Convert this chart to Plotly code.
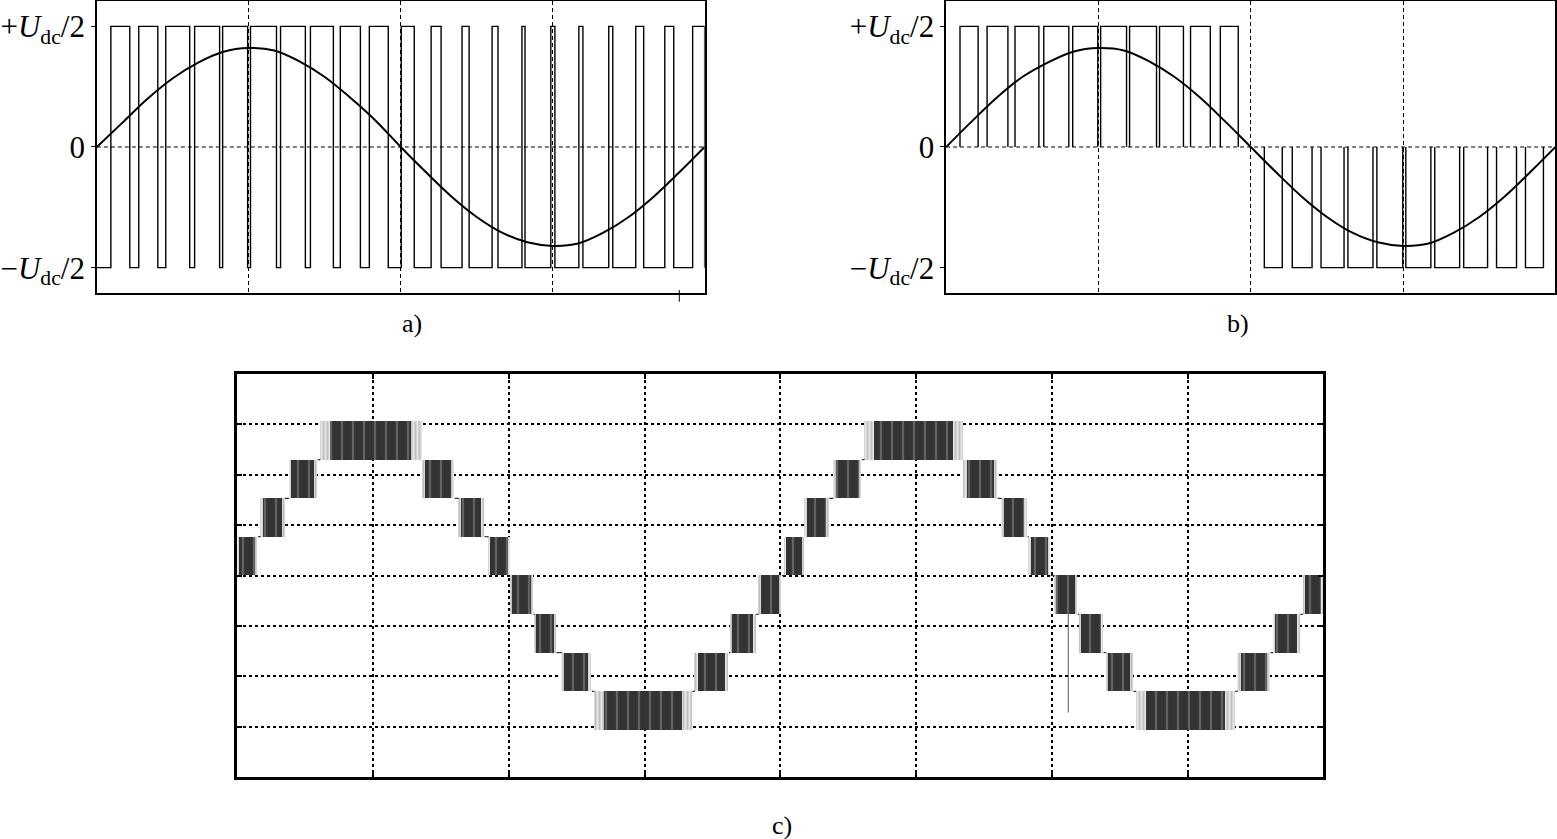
import plotly.graph_objects as go

# ---------------- panel a) bipolar SPWM (angle in degrees) ----------------
a_high_start = [8.3, 24.8, 40.8, 57.9, 74.5, 91.0, 108.8, 126.5, 144.2, 161.4,
                180.3, 198.0, 216.3, 234.1, 251.8, 268.9, 285.5, 303.2, 319.2, 336.4, 352.9]
a_high_end = [19.5, 36.1, 55.0, 72.7, 89.3, 106.4, 123.5, 140.1, 156.1, 172.6,
              188.0, 203.9, 220.5, 237.6, 253.6, 271.3, 287.9, 305.6, 323.9, 341.7, 360.0]

sine_deg = [0, 15, 30, 45, 60, 75, 90, 105, 120, 135, 150, 165, 180,
            195, 210, 225, 240, 255, 270, 285, 300, 315, 330, 345, 360]
a_sine = [0.0, 0.20, 0.40, 0.57, 0.70, 0.79, 0.82, 0.80, 0.71, 0.58, 0.41, 0.22, 0.0,
          -0.21, -0.41, -0.58, -0.71, -0.79, -0.82, -0.80, -0.71, -0.58, -0.41, -0.21, 0.0]

# ---------------- panel b) unipolar SPWM ----------------
b_pos_start = [8.2, 24.2, 40.7, 57.7, 74.8, 91.3, 108.4, 126.1, 144.4, 162.0]
b_pos_end = [18.9, 36.5, 54.8, 72.5, 89.6, 106.6, 124.3, 140.2, 156.1, 172.6]
b_neg_start = [188.0, 204.5, 221.5, 237.4, 254.5, 271.6, 288.7, 305.8, 325.2, 342.3]
b_neg_end = [198.6, 216.2, 235.1, 252.2, 269.8, 286.4, 303.4, 319.9, 337.0, 352.9]
b_sine = [0.0, 0.21, 0.41, 0.58, 0.70, 0.79, 0.82, 0.80, 0.71, 0.58, 0.41, 0.21, 0.0,
          -0.21, -0.41, -0.58, -0.71, -0.79, -0.82, -0.80, -0.71, -0.58, -0.41, -0.21, 0.0]

# ---------------- panel c) multilevel staircase (scope divisions) ----------------
c_band_start = [0.00, 0.17, 0.38, 0.61, 1.36, 1.63, 1.85, 2.01, 2.19, 2.39, 2.63, 3.37, 3.63, 3.84,
                4.03, 4.18, 4.39, 4.62, 5.35, 5.63, 5.83, 6.02, 6.20, 6.40, 6.62, 7.37, 7.63, 7.85]
c_band_end = [0.15, 0.35, 0.59, 1.36, 1.60, 1.82, 2.01, 2.18, 2.35, 2.61, 3.35, 3.62, 3.82, 4.01,
              4.18, 4.36, 4.60, 5.35, 5.60, 5.82, 5.99, 6.19, 6.38, 6.60, 7.35, 7.61, 7.83, 8.00]
c_band_lo = [0.0, 0.77, 1.53, 2.30, 1.53, 0.77, 0.0, -0.77, -1.53, -2.30, -3.07, -2.30, -1.53, -0.77,
             0.0, 0.77, 1.53, 2.30, 1.53, 0.77, 0.0, -0.77, -1.53, -2.30, -3.07, -2.30, -1.53, -0.77]
c_band_hi = [0.77, 1.53, 2.30, 3.07, 2.30, 1.53, 0.77, 0.0, -0.77, -1.53, -2.30, -1.53, -0.77, 0.0,
             0.77, 1.53, 2.30, 3.07, 2.30, 1.53, 0.77, 0.0, -0.77, -1.53, -2.30, -1.53, -0.77, 0.0]
c_glitch_x = [6.12, 6.12]
c_glitch_y = [-0.75, -2.72]

u_tickvals = [-1, 0, 1]
u_ticktext = ["\u2212<i>U</i><sub>dc</sub>/2", "0", "+<i>U</i><sub>dc</sub>/2"]

SERIF = "Liberation Serif"
INK = "black"


def bipolar_path(starts, ends, lo, hi, x_end):
    xs, ys = [0], [lo]
    for s, e in zip(starts, ends):
        xs += [s, s, e, e]
        ys += [lo, hi, hi, lo]
    xs.append(x_end)
    ys.append(lo)
    return xs, ys


def pulse_path(starts, ends, base, top):
    xs, ys = [], []
    for s, e in zip(starts, ends):
        xs += [s, s, e, e, None]
        ys += [base, top, top, base, None]
    return xs, ys


fig = go.Figure()

# a)
ax, ay = bipolar_path(a_high_start, a_high_end, -1, 1, 360)
fig.add_trace(go.Scatter(x=ax, y=ay, mode="lines", line=dict(color=INK, width=1.4),
                         xaxis="x", yaxis="y"))
fig.add_trace(go.Scatter(x=sine_deg, y=a_sine, mode="lines", line=dict(color=INK, width=2, shape="spline"),
                         xaxis="x", yaxis="y"))

# b)
px_, py_ = pulse_path(b_pos_start, b_pos_end, 0, 1)
nx_, ny_ = pulse_path(b_neg_start, b_neg_end, 0, -1)
fig.add_trace(go.Scatter(x=px_ + nx_, y=py_ + ny_, mode="lines", line=dict(color=INK, width=1.4),
                         xaxis="x2", yaxis="y2"))
fig.add_trace(go.Scatter(x=sine_deg, y=b_sine, mode="lines", line=dict(color=INK, width=2, shape="spline"),
                         xaxis="x2", yaxis="y2"))

# c) switching bands: light hatched outer part, dark core
centers = [(s + e) / 2 for s, e in zip(c_band_start, c_band_end)]
widths = [e - s for s, e in zip(c_band_start, c_band_end)]
heights = [h - l for l, h in zip(c_band_lo, c_band_hi)]
fig.add_trace(go.Bar(x=centers, y=heights, base=c_band_lo, width=widths,
                     marker=dict(color="#d0d0d0", line=dict(width=0),
                                 pattern=dict(shape="|", fgcolor="#8a8a8a", bgcolor="#e6e6e6",
                                              size=4, solidity=0.4)),
                     xaxis="x3", yaxis="y3"))
fig.add_trace(go.Bar(x=centers, y=heights, base=c_band_lo, width=[w * 0.8 for w in widths],
                     marker=dict(color="#333333", line=dict(width=0),
                                 pattern=dict(shape="|", fgcolor="#d8d8d8", bgcolor="#333333",
                                              size=11, solidity=0.12)),
                     xaxis="x3", yaxis="y3"))

# staircase connectors between bands
sx, sy = [], []
for i in range(len(c_band_start) - 1):
    lvl = max(c_band_lo[i], c_band_lo[i + 1])
    sx += [c_band_end[i], c_band_start[i + 1], None]
    sy += [lvl, lvl, None]
fig.add_trace(go.Scatter(x=sx, y=sy, mode="lines", line=dict(color="#333333", width=1.2),
                         xaxis="x3", yaxis="y3"))
fig.add_trace(go.Scatter(x=c_glitch_x, y=c_glitch_y, mode="lines", line=dict(color="#555555", width=1),
                         xaxis="x3", yaxis="y3"))

top_x = dict(range=[0, 360], tickvals=[90, 180, 270], showticklabels=False, ticks="",
             showgrid=True, gridcolor=INK, gridwidth=1, griddash="4px,3px",
             showline=True, linecolor=INK, linewidth=1.5, mirror=True, zeroline=False, fixedrange=True)
top_y = dict(range=[-1.21, 1.21], tickvals=u_tickvals, ticktext=u_ticktext, showgrid=False,
             ticks="outside", ticklen=4, tickcolor=INK, tickfont=dict(family=SERIF, size=31, color=INK),
             showline=True, linecolor=INK, linewidth=1.5, mirror=True, zeroline=False, fixedrange=True)

fig.update_layout(
    width=1557, height=839,
    margin=dict(l=0, r=0, t=0, b=0),
    paper_bgcolor="white", plot_bgcolor="white",
    showlegend=False, barmode="overlay", bargap=0,
    font=dict(family=SERIF, color=INK, size=26),
    xaxis=dict(top_x, domain=[0.0604, 0.4515], anchor="y"),
    yaxis=dict(top_y, domain=[0.6508, 0.9988], anchor="x"),
    xaxis2=dict(top_x, domain=[0.6069, 0.9990], anchor="y2"),
    yaxis2=dict(top_y, domain=[0.6508, 0.9988], anchor="x2"),
    xaxis3=dict(domain=[0.1509, 0.8497], anchor="y3", range=[0, 8], dtick=1, showticklabels=False,
                ticks="inside", ticklen=5, tickwidth=2, tickcolor=INK,
                showgrid=True, gridcolor=INK, gridwidth=1.5, griddash="dot",
                showline=True, linecolor=INK, linewidth=3, mirror="ticks", zeroline=False, fixedrange=True),
    yaxis3=dict(domain=[0.0739, 0.5542], anchor="x3", range=[-4, 4], dtick=1, showticklabels=False,
                ticks="inside", ticklen=5, tickwidth=2, tickcolor=INK,
                showgrid=True, gridcolor=INK, gridwidth=1.5, griddash="dot",
                showline=True, linecolor=INK, linewidth=3, mirror="ticks", zeroline=False, fixedrange=True),
)

# dashed zero lines in a) and b)
for xr, yr in [("x", "y"), ("x2", "y2")]:
    fig.add_shape(type="line", xref=xr + " domain", yref=yr, x0=0, x1=1, y0=0, y1=0,
                  line=dict(color=INK, width=1, dash="4px,3px"), layer="below")
# small stray tick under a)
fig.add_shape(type="line", xref="x", yref="y domain", x0=345, x1=345, y0=-0.03, y1=0.01,
              line=dict(color=INK, width=1))

for text, x, y in [("a)", 0.2556, 0.615), ("b)", 0.8028, 0.615), ("c)", 0.501, 0.0155)]:
    fig.add_annotation(text=text, x=x, y=y, xref="paper", yref="paper", showarrow=False,
                       yanchor="middle", font=dict(family=SERIF, size=26, color=INK))

fig.write_html("out.html", config={"displayModeBar": False},
               post_script="document.body.style.margin='0';")
